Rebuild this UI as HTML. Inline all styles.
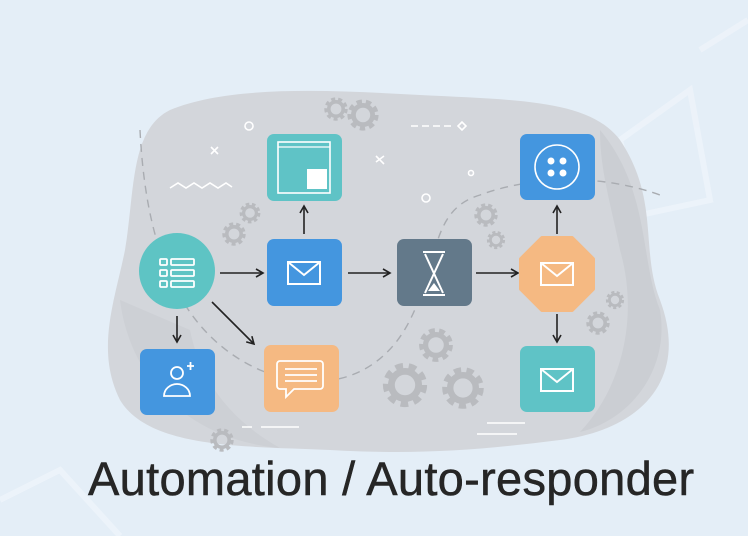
<!DOCTYPE html>
<html><head><style>
html,body{margin:0;padding:0;}
body{width:748px;height:536px;overflow:hidden;background:#e4eef7;position:relative;font-family:"Liberation Sans",sans-serif;}
svg{position:absolute;left:0;top:0;}
.t{position:absolute;left:88px;top:455px;font-size:47px;line-height:1;color:#262626;letter-spacing:0.3px;white-space:nowrap;-webkit-text-stroke:0.5px #262626;}
</style></head><body>
<svg width="748" height="536" viewBox="0 0 748 536">
<defs>
<g id="gear"><circle r="10" fill="none" stroke="#b9bbbf" stroke-width="6" stroke-dasharray="4 3"/><circle r="8" fill="none" stroke="#b9bbbf" stroke-width="4"/></g>
<g id="env"><rect x="-16" y="-11" width="32" height="22" fill="none" stroke="#fff" stroke-width="2"/><polyline points="-16,-11 0,2 16,-11" fill="none" stroke="#fff" stroke-width="2"/></g>
<marker id="ah" markerWidth="10" markerHeight="10" refX="8" refY="5" orient="auto" markerUnits="userSpaceOnUse"><polyline points="1,1 8,5 1,9" fill="none" stroke="#222" stroke-width="1.6"/></marker>
</defs>
<g fill="none" stroke="#eef4fa" stroke-width="6" opacity="0.8">
<polyline points="620,140 690,90 710,200 640,215 620,140"/>
<polyline points="700,50 748,20"/>
<polyline points="0,500 60,470 120,536"/>
</g>
<path d="M170,110 C230,85 330,90 420,95 C520,100 590,100 620,140 C660,200 640,250 660,300 C690,380 640,430 560,440 C480,450 420,455 330,450 C250,446 150,450 120,400 C95,350 115,300 125,250 C135,190 130,130 170,110 Z" fill="#d3d6db"/>
<path d="M120,300 C130,380 190,440 280,448 C230,420 200,380 190,330 Z" fill="#cdd0d5"/>
<path d="M600,130 C650,190 640,260 660,310 C670,370 630,420 580,432 C620,390 640,320 620,250 C610,200 600,170 600,130 Z" fill="#cbced3"/>
<path d="M140,130 C145,230 170,330 260,370 C320,395 380,380 410,320 C440,260 430,210 480,195 C520,180 590,170 660,195" fill="none" stroke="#a9acb1" stroke-width="1.4" stroke-dasharray="8 6"/>
<g transform="translate(336,109) scale(0.9)"><use href="#gear"/></g>
<g transform="translate(363,115) scale(1.2)"><use href="#gear"/></g>
<g transform="translate(250,213) scale(0.8)"><use href="#gear"/></g>
<g transform="translate(234,234) scale(0.9)"><use href="#gear"/></g>
<g transform="translate(486,215) scale(0.9)"><use href="#gear"/></g>
<g transform="translate(496,240) scale(0.7)"><use href="#gear"/></g>
<g transform="translate(615,300) scale(0.7)"><use href="#gear"/></g>
<g transform="translate(598,323) scale(0.9)"><use href="#gear"/></g>
<g transform="translate(436,345) scale(1.3)"><use href="#gear"/></g>
<g transform="translate(405,385) scale(1.7)"><use href="#gear"/></g>
<g transform="translate(463,388) scale(1.6)"><use href="#gear"/></g>
<g transform="translate(222,440) scale(0.9)"><use href="#gear"/></g>
<g fill="none" stroke="#fff" stroke-width="1.6">
<circle cx="249" cy="126" r="4"/><circle cx="426" cy="198" r="4"/><circle cx="471" cy="173" r="2.5"/>
<path d="M211,147 l7,7 M218,147 l-7,7"/><path d="M376,156 l8,8 M384,156 l-8,6"/>
<polyline points="170,188 178,183 186,188 194,183 202,188 210,183 218,188 226,183 232,187"/>
<path d="M411,126 h44" stroke-dasharray="7 4"/><path d="M458,126 l4,-4 4,4 -4,4 z"/>
<path d="M242,427 h10 M261,427 h38"/>
<path d="M487,423 h38 M477,434 h40"/>
</g>
<g stroke="#222" stroke-width="1.6" fill="none" marker-end="url(#ah)">
<line x1="220" y1="273" x2="263" y2="273"/>
<line x1="348" y1="273" x2="390" y2="273"/>
<line x1="476" y1="273" x2="518" y2="273"/>
<line x1="304" y1="234" x2="304" y2="206"/>
<line x1="177" y1="316" x2="177" y2="342"/>
<line x1="212" y1="302" x2="254" y2="344"/>
<line x1="557" y1="234" x2="557" y2="206"/>
<line x1="557" y1="314" x2="557" y2="342"/>
</g>
<circle cx="177" cy="271" r="38" fill="#5ec4c4"/>
<g fill="none" stroke="#fff" stroke-width="1.8">
<rect x="160" y="259" width="7" height="6" rx="1"/><rect x="171" y="259" width="23" height="6" rx="1"/>
<rect x="160" y="270" width="7" height="6" rx="1"/><rect x="171" y="270" width="23" height="6" rx="1"/>
<rect x="160" y="281" width="7" height="6" rx="1"/><rect x="171" y="281" width="23" height="6" rx="1"/>
</g>
<rect x="267" y="134" width="75" height="67" rx="7" fill="#5fc3c6"/>
<rect x="278" y="142" width="52" height="51" fill="none" stroke="#fff" stroke-width="1.6"/>
<line x1="278" y1="147" x2="330" y2="147" stroke="#fff" stroke-width="1.2"/>
<rect x="307" y="169" width="20" height="20" fill="#fff"/>
<rect x="267" y="239" width="75" height="67" rx="7" fill="#4496df"/>
<g transform="translate(304,273)"><use href="#env"/></g>
<rect x="397" y="239" width="75" height="67" rx="7" fill="#63798a"/>
<g fill="none" stroke="#fff" stroke-width="2"><path d="M423,252 h22 M423,295 h22 M425,254 L443,293 M443,254 L425,293"/></g>
<path d="M428,291 l6,-8 6,8 z" fill="#fff"/>
<rect x="140" y="349" width="75" height="66" rx="7" fill="#4496df"/>
<g fill="none" stroke="#fff" stroke-width="1.8"><circle cx="177" cy="373" r="6"/><path d="M164,396 a13,12 0 0 1 26,0 z"/><path d="M187,366 h7 M190.5,362 v8"/></g>
<rect x="264" y="345" width="75" height="67" rx="7" fill="#f5b982"/>
<g fill="none" stroke="#fff" stroke-width="1.8"><path d="M280,361 h40 a3,3 0 0 1 3,3 v22 a3,3 0 0 1 -3,3 h-26 l-8,8 v-8 h-6 a3,3 0 0 1 -3,-3 v-22 a3,3 0 0 1 3,-3 z"/><path d="M285,369 h32 M285,375 h32 M285,381 h32"/></g>
<rect x="520" y="134" width="75" height="66" rx="7" fill="#4496df"/>
<circle cx="557" cy="167" r="22" fill="none" stroke="#fff" stroke-width="1.6"/>
<g fill="#fff"><circle cx="551" cy="161" r="3.5"/><circle cx="563" cy="161" r="3.5"/><circle cx="551" cy="173" r="3.5"/><circle cx="563" cy="173" r="3.5"/></g>
<polygon points="542,238 572,238 593,259 593,289 572,310 542,310 521,289 521,259" fill="#f5b982" stroke="#f5b982" stroke-width="4" stroke-linejoin="round"/>
<g transform="translate(557,274)"><use href="#env"/></g>
<rect x="520" y="346" width="75" height="66" rx="7" fill="#5fc3c6"/>
<g transform="translate(557,380)"><use href="#env"/></g>
</svg>
<div class="t">Automation / Auto-responder</div>
</body></html>
